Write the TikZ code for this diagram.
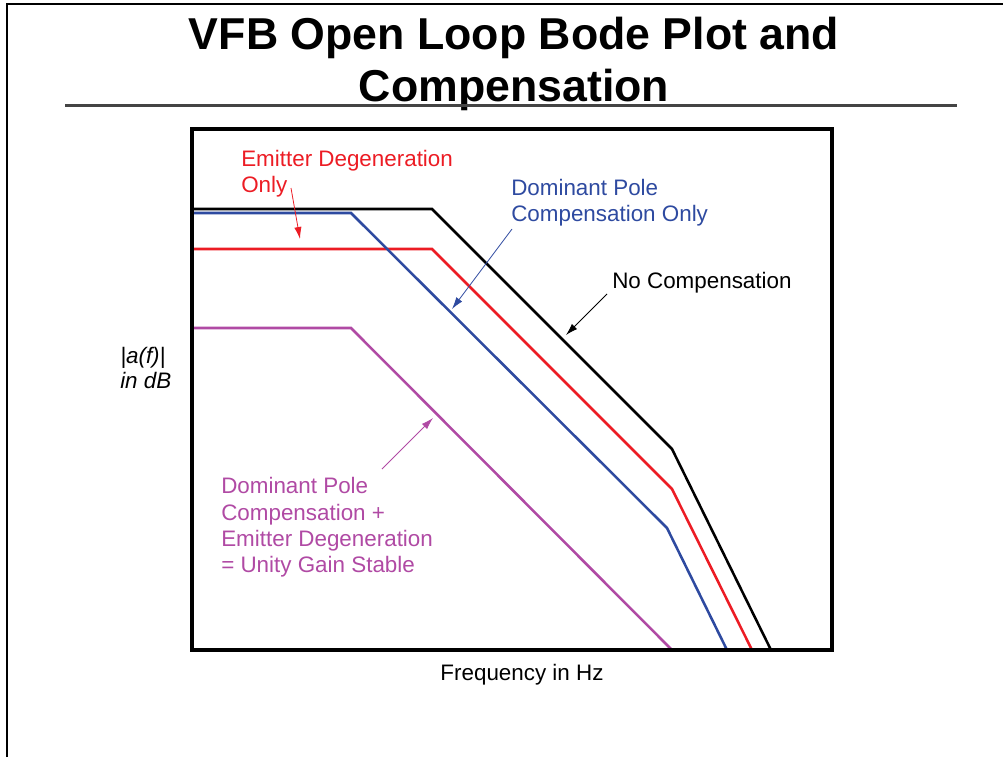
\documentclass[tikz,border=0pt]{standalone}
\usepackage{fontspec}
\setmainfont{Liberation Sans}
\usetikzlibrary{arrows.meta}

\definecolor{curvered}{RGB}{236,28,36}
\definecolor{curveblue}{RGB}{46,74,160}
\definecolor{curvepurple}{RGB}{176,74,164}
\definecolor{rulegray}{RGB}{68,68,68}

\tikzset{
  titletext/.style={font=\fontsize{33.5}{40}\selectfont\bfseries, inner sep=0pt, anchor=base},
  lbl/.style={font=\fontsize{16.8}{20}\selectfont, inner sep=0pt, anchor=base west},
  itlbl/.style={lbl, font=\fontsize{16.8}{20}\selectfont\itshape},
  curve/.style={line width=1.9pt, line join=miter},
  pointer/.style={line width=0.6pt, -{Latex[length=9pt,width=5.5pt]}},
  frame/.style={line width=3.6pt, line join=miter}
}

\begin{document}
\begin{tikzpicture}[x=0.75pt, y=-0.75pt]
  \useasboundingbox (0,0) rectangle (1003,757);

  % page edge
  \draw[line width=1.1pt] (7,757) -- (7,4) -- (1003,4);

  % title and rule
  \node[titletext] (t1) at (514,49) {VFB Open Loop Bode Plot and};
  \node[titletext] (t2) at (514,101) {Compensation};
  \draw[rulegray, line width=1.6pt] (65,105.5) -- (957,105.5);

  % open loop gain curves
  \draw[curve] (190,209) -- (432,209) -- (672,449) -- (771,650);
  \draw[curve, curvered] (190,249) -- (432,249) -- (672,489) -- (752,650);
  \draw[curve, curveblue] (190,213) -- (351,213) -- (667,528) -- (727,650);
  \draw[curve, curvepurple] (190,328) -- (351,328) -- (672,650);

  % plot frame
  \draw[frame] (192,129) rectangle (832,650);

  % axis labels
  \node[itlbl] (ya) at (120,363) {|a(f)|};
  \node[itlbl] (yb) at (120,388) {in dB};
  \node[lbl, anchor=base] (xl) at (522,680) {Frequency in Hz};

  % curve labels
  \node[lbl, curvered] (ed1) at (241,166) {Emitter Degeneration};
  \node[lbl, curvered] (ed2) at (241,192) {Only};

  \node[lbl, curveblue] (dp1) at (511,195) {Dominant Pole};
  \node[lbl, curveblue] (dp2) at (511,221) {Compensation Only};

  \node[lbl] (nc) at (612,288) {No Compensation};

  \node[lbl, curvepurple] (ug1) at (221,493) {Dominant Pole};
  \node[lbl, curvepurple] (ug2) at (221,520) {Compensation +};
  \node[lbl, curvepurple] (ug3) at (221,546) {Emitter Degeneration};
  \node[lbl, curvepurple] (ug4) at (221,572) {= Unity Gain Stable};

  % pointer ends
  \coordinate (edS) at (291,188);
  \coordinate (edT) at (300,239);
  \coordinate (dpS) at (512,229);
  \coordinate (dpT) at (452,309);
  \coordinate (ncS) at (607,294);
  \coordinate (ncT) at (566,335);
  \coordinate (ugS) at (382,469);
  \coordinate (ugT) at (433,418);

  % pointers
  \draw[pointer, curvered] (edS) -- (edT);
  \draw[pointer, curveblue] (dpS) -- (dpT);
  \draw[pointer] (ncS) -- (ncT);
  \draw[pointer, curvepurple] (ugS) -- (ugT);
\end{tikzpicture}
\end{document}
